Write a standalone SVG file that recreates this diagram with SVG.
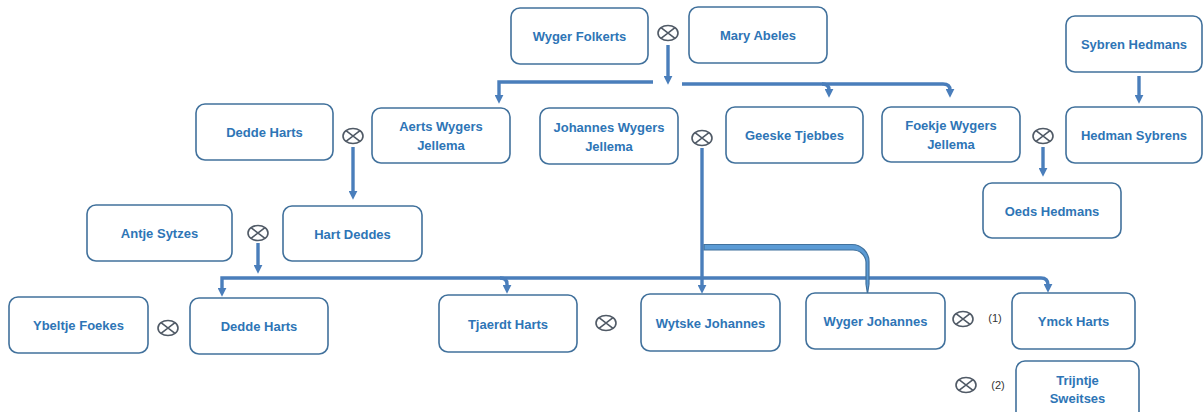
<svg xmlns="http://www.w3.org/2000/svg" width="1203" height="412" viewBox="0 0 1203 412">
<style>
.box{fill:#fff;stroke:#41719c;stroke-width:1.6}
.t{font-family:"Liberation Sans",Arial,sans-serif;font-weight:bold;font-size:13px;fill:#2e75b6;text-anchor:middle}
.n{font-family:"Liberation Sans",Arial,sans-serif;font-size:11px;fill:#333;text-anchor:middle}
.c{fill:none;stroke:#4a7ebb;stroke-width:3.4}
.m{fill:#fff;stroke:#505a66;stroke-width:1.6}
</style>
<defs>
<marker id="ah" viewBox="0 0 8 8" markerWidth="9" markerHeight="9" refX="2" refY="4" orient="auto-start-reverse" markerUnits="userSpaceOnUse">
<path d="M0,0 L8,4 L0,8 z" fill="#4a7ebb"/>
</marker>
<g id="mar">
<ellipse cx="0" cy="0" rx="10" ry="7.5" class="m"/>
<path d="M-7,-5.3 L7,5.3 M-7,5.3 L7,-5.3" stroke="#505a66" stroke-width="1.6"/>
</g>
</defs>
<g id="connectors">
<path class="c" d="M668,45 V78" marker-end="url(#ah)"/>
<path class="c" d="M653,82 H499 V97" marker-end="url(#ah)"/>
<path class="c" d="M682,84 H943 Q950,84 950,90 V91" marker-end="url(#ah)"/>
<path class="c" d="M822,84 Q829,84 829,90 V91" marker-end="url(#ah)"/>
<path class="c" d="M353,147 V193" marker-end="url(#ah)"/>
<path class="c" d="M1139,76 V97" marker-end="url(#ah)"/>
<path class="c" d="M1043,147 V170" marker-end="url(#ah)"/>
<path class="c" d="M258,243 V267" marker-end="url(#ah)"/>
<path class="c" d="M222,290 V278 H1041 Q1048,278 1048,285 V286" marker-start="url(#ah)" marker-end="url(#ah)"/>
<path class="c" d="M500,278 Q507,278 507,284 V287" marker-end="url(#ah)"/>
<path class="c" d="M702,148 V287" marker-end="url(#ah)"/>
<path d="M704,244.5 H852 A17,17 0 0 1 869,261.5 V284 L867.5,294 L866,284 V262 A13,13 0 0 0 853,250 H704 Z" fill="#5b9bd5" stroke="#41719c" stroke-width="1.2"/>
</g>
<g id="m1"><use href="#mar" x="668" y="33"/></g>
<g id="m2"><use href="#mar" x="353" y="136"/></g>
<g id="m3"><use href="#mar" x="702" y="138"/></g>
<g id="m4"><use href="#mar" x="1043" y="136"/></g>
<g id="m5"><use href="#mar" x="258" y="233"/></g>
<g id="m6"><use href="#mar" x="168" y="328"/></g>
<g id="m7"><use href="#mar" x="606" y="323"/></g>
<g id="m8"><use href="#mar" x="963" y="319"/><text class="n" x="995" y="322">(1)</text></g>
<g id="m9"><use href="#mar" x="966" y="385"/><text class="n" x="998" y="389">(2)</text></g>
<g id="wyger-folkerts"><rect class="box" x="511" y="8" width="137" height="56" rx="9"/><text class="t" x="579.5" y="41">Wyger Folkerts</text></g>
<g id="mary-abeles"><rect class="box" x="689" y="7" width="138" height="56" rx="9"/><text class="t" x="758" y="40">Mary Abeles</text></g>
<g id="dedde-harts-1"><rect class="box" x="196" y="104" width="137" height="56" rx="9"/><text class="t" x="264.5" y="137">Dedde Harts</text></g>
<g id="aerts"><rect class="box" x="372" y="108" width="138" height="55" rx="9"/><text class="t" x="441" y="131">Aerts Wygers</text><text class="t" x="441" y="150">Jellema</text></g>
<g id="johannes"><rect class="box" x="540" y="108" width="138" height="56" rx="9"/><text class="t" x="609" y="132">Johannes Wygers</text><text class="t" x="609" y="151">Jellema</text></g>
<g id="geeske"><rect class="box" x="726" y="107" width="137" height="56" rx="9"/><text class="t" x="794.5" y="140">Geeske Tjebbes</text></g>
<g id="foekje"><rect class="box" x="882" y="107" width="138" height="55" rx="9"/><text class="t" x="951" y="130">Foekje Wygers</text><text class="t" x="951" y="149">Jellema</text></g>
<g id="sybren"><rect class="box" x="1066" y="16" width="136" height="56" rx="9"/><text class="t" x="1134" y="49">Sybren Hedmans</text></g>
<g id="hedman"><rect class="box" x="1066" y="107" width="136" height="56" rx="9"/><text class="t" x="1134" y="140">Hedman Sybrens</text></g>
<g id="oeds"><rect class="box" x="983" y="183" width="138" height="55" rx="9"/><text class="t" x="1052" y="215.5">Oeds Hedmans</text></g>
<g id="antje"><rect class="box" x="87" y="205" width="145" height="56" rx="9"/><text class="t" x="159.5" y="238">Antje Sytzes</text></g>
<g id="hart-deddes"><rect class="box" x="283" y="206" width="139" height="55" rx="9"/><text class="t" x="352.5" y="238.5">Hart Deddes</text></g>
<g id="ybeltje"><rect class="box" x="9" y="297" width="139" height="56" rx="9"/><text class="t" x="78.5" y="330">Ybeltje Foekes</text></g>
<g id="dedde-harts-2"><rect class="box" x="190" y="298" width="138" height="56" rx="9"/><text class="t" x="259" y="331">Dedde Harts</text></g>
<g id="tjaerdt"><rect class="box" x="439" y="295" width="138" height="57" rx="9"/><text class="t" x="508" y="328.5">Tjaerdt Harts</text></g>
<g id="wytske"><rect class="box" x="641" y="294" width="139" height="57" rx="9"/><text class="t" x="710.5" y="327.5">Wytske Johannes</text></g>
<g id="wyger-johannes"><rect class="box" x="806" y="293" width="139" height="56" rx="9"/><text class="t" x="875.5" y="326">Wyger Johannes</text></g>
<g id="ymck"><rect class="box" x="1012" y="293" width="123" height="56" rx="9"/><text class="t" x="1073.5" y="326">Ymck Harts</text></g>
<g id="trijntje"><rect class="box" x="1016" y="361" width="123" height="60" rx="9"/><text class="t" x="1077.5" y="385">Trijntje</text><text class="t" x="1077.5" y="403">Sweitses</text></g>
</svg>
